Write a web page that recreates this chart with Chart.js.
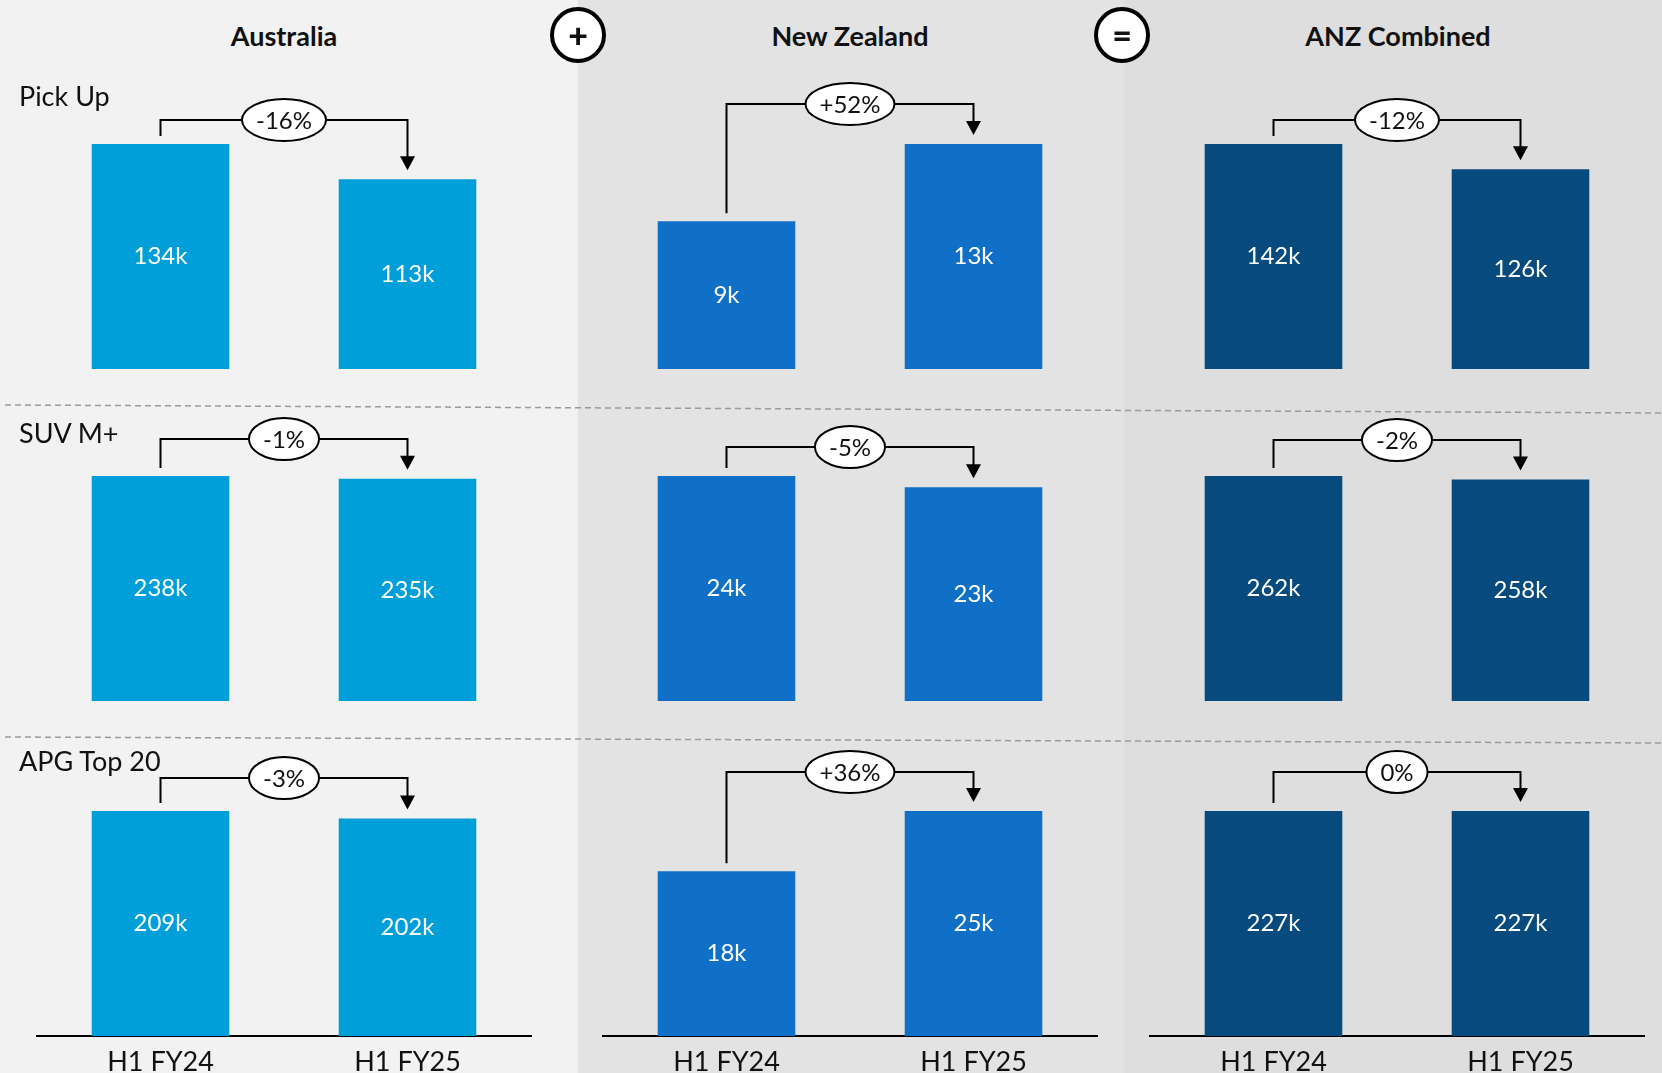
<!DOCTYPE html>
<html>
<head>
<meta charset="utf-8">
<script src="https://cdn.jsdelivr.net/npm/chart.js@4.4.1/dist/chart.umd.min.js"></script>
<style>
  html, body { margin: 0; padding: 0; }
  body { width: 1662px; height: 1073px; overflow: hidden; position: relative; font-family: Lato, 'Noto Sans', sans-serif; color: #111; }
  .panel { position: absolute; top: 0; height: 1073px; }
  .title { position: absolute; top: 22px; font-weight: 700; font-size: 27px; line-height: 1; text-align: center; }
  .rowlabel { position: absolute; left: 19px; font-size: 27px; line-height: 1; white-space: nowrap; z-index: 3; }
  .op { position: absolute; width: 48px; height: 48px; border: 4px solid #000; border-radius: 50%; background: #fff;
        display: flex; align-items: center; justify-content: center; font-weight: 900; font-size: 34px; line-height: 1; z-index: 4; }
  canvas { position: absolute; z-index: 2; }
  svg { position: absolute; left: 0; top: 0; z-index: 1; }
</style>
</head>
<body>
<div class="panel" style="left:0;width:578px;background:#f2f2f2"></div>
<div class="panel" style="left:578px;width:546px;background:#e3e3e3"></div>
<div class="panel" style="left:1124px;width:538px;background:#dedede"></div>

<svg width="1662" height="1073">
  <line x1="5" y1="405" x2="1662" y2="413" stroke="#9a9a9a" stroke-width="1.5" stroke-dasharray="6 4"/>
  <line x1="5" y1="737" x2="1662" y2="743" stroke="#9a9a9a" stroke-width="1.5" stroke-dasharray="6 4"/>
</svg>

<div class="op" style="left:550px;top:7px">+</div>
<div class="op" style="left:1094px;top:7px">=</div>

<div id="titles"></div>
<div id="rowlabels"></div>

<script>
// categories and labels
const categories = ['H1 FY24', 'H1 FY25'];
const regions = ['Australia', 'New Zealand', 'ANZ Combined'];
const segments = ['Pick Up', 'SUV M+', 'APG Top 20'];

// volumes in thousands, one pair per segment
const australia = [[134, 113], [238, 235], [209, 202]];
const newZealand = [[8.6, 13.1], [24, 22.8], [18.3, 25]];
const anzCombined = [[142, 126], [262, 258], [227, 227]];

// change labels shown in the ovals
const australiaChange = ['-16%', '-1%', '-3%'];
const newZealandChange = ['+52%', '-5%', '+36%'];
const anzChange = ['-12%', '-2%', '0%'];

const regionValues = [australia, newZealand, anzCombined];
const regionChanges = [australiaChange, newZealandChange, anzChange];
const regionColors = ['#009fda', '#106fc7', '#064a7e'];

// layout (pixels)
const cols = [
  { x0: 0, x1: 578, left: 37, right: 531, mid: 284 },
  { x0: 578, x1: 1124, left: 603, right: 1097, mid: 850 },
  { x0: 1124, x1: 1662, left: 1150, right: 1644, mid: 1398 }
];
const rows = [
  { y0: 60, y1: 400, top: 144, bottom: 369, label: 82 },
  { y0: 415, y1: 735, top: 476, bottom: 701, label: 419 },
  { y0: 745, y1: 1090, top: 811, bottom: 1036, label: 747 }
];
const bracketRise = [[24, 40, 24], [37, 29, 36], [33, 39, 39]];
const AXIS_H = 40;

regions.forEach((r, c) => {
  const d = document.createElement('div');
  d.className = 'title';
  d.textContent = r;
  d.style.left = (cols[c].mid - 150) + 'px';
  d.style.width = '300px';
  document.getElementById('titles').appendChild(d);
});
segments.forEach((s, r) => {
  const d = document.createElement('div');
  d.className = 'rowlabel';
  d.textContent = s;
  d.style.top = rows[r].label + 'px';
  document.getElementById('rowlabels').appendChild(d);
});

const bracketPlugin = {
  id: 'bracket',
  afterDatasetsDraw(chart, args, opts) {
    const ctx = chart.ctx;
    const meta = chart.getDatasetMeta(0);
    const vals = chart.data.datasets[0].data;
    const b1 = meta.data[0], b2 = meta.data[1];
    ctx.save();

    // value labels in the middle of each bar
    ctx.fillStyle = '#fff';
    ctx.font = '24px Lato';
    ctx.textAlign = 'center';
    ctx.textBaseline = 'middle';
    meta.data.forEach((b, i) => ctx.fillText(Math.round(vals[i]) + 'k', b.x, (b.y + b.base) / 2));

    // bracket with arrow
    const level = Math.min(b1.y, b2.y) - opts.rise;
    const tip = b2.y - 9;
    ctx.strokeStyle = '#000';
    ctx.lineWidth = 2;
    ctx.beginPath();
    ctx.moveTo(b1.x, b1.y - 8);
    ctx.lineTo(b1.x, level);
    ctx.lineTo(b2.x, level);
    ctx.lineTo(b2.x, tip - 12);
    ctx.stroke();
    ctx.fillStyle = '#000';
    ctx.beginPath();
    ctx.moveTo(b2.x - 7.5, tip - 14);
    ctx.lineTo(b2.x + 7.5, tip - 14);
    ctx.lineTo(b2.x, tip);
    ctx.closePath();
    ctx.fill();

    // oval with change label
    const cx = (b1.x + b2.x) / 2;
    ctx.font = '24px Lato';
    const tw = ctx.measureText(opts.label).width;
    ctx.beginPath();
    ctx.ellipse(cx, level, tw / 2 + 14, 21, 0, 0, Math.PI * 2);
    ctx.fillStyle = '#fff';
    ctx.fill();
    ctx.stroke();
    ctx.fillStyle = '#111';
    ctx.fillText(opts.label, cx, level + 1);
    ctx.restore();
  }
};

rows.forEach((row, r) => {
  cols.forEach((col, c) => {
    const vals = regionValues[c][r];
    const cv = document.createElement('canvas');
    const w = col.x1 - col.x0, h = row.y1 - row.y0;
    cv.width = w; cv.height = h;
    cv.style.left = col.x0 + 'px';
    cv.style.top = row.y0 + 'px';
    cv.style.width = w + 'px';
    cv.style.height = h + 'px';
    document.body.appendChild(cv);
    const last = r === rows.length - 1;

    new Chart(cv, {
      type: 'bar',
      data: {
        labels: categories,
        datasets: [{
          data: vals,
          backgroundColor: regionColors[c],
          barPercentage: 0.557,
          categoryPercentage: 1
        }]
      },
      plugins: [bracketPlugin],
      options: {
        responsive: false,
        animation: false,
        devicePixelRatio: 1,
        layout: {
          padding: {
            left: col.left - col.x0,
            right: col.x1 - col.right,
            top: row.top - row.y0,
            bottom: row.y1 - row.bottom - (last ? AXIS_H : 0)
          }
        },
        plugins: {
          legend: { display: false },
          tooltip: { enabled: false },
          bracket: { rise: bracketRise[r][c], label: regionChanges[c][r] }
        },
        scales: {
          x: {
            display: last,
            grid: { display: false, drawTicks: false },
            border: { display: true, color: '#000', width: 2 },
            ticks: { font: { family: 'Lato', size: 27 }, color: '#111', padding: 10 },
            afterFit(s) { if (last) s.height = AXIS_H; }
          },
          y: { display: false, min: 0, max: Math.max(...vals) }
        }
      }
    });
  });
});
</script>
</body>
</html>
